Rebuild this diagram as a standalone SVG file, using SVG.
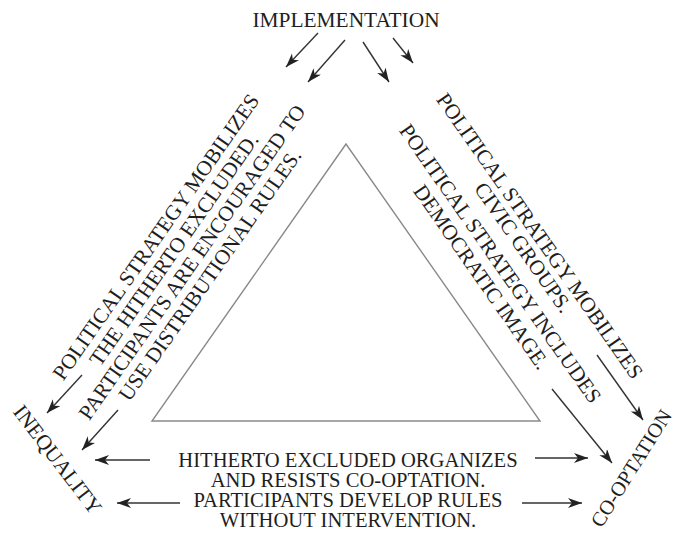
<svg xmlns="http://www.w3.org/2000/svg" width="681" height="541" viewBox="0 0 681 541">
<style>
text{font-family:"Liberation Serif","Times New Roman",serif;font-size:21.4px;fill:#1e1e1e;}
.c{text-anchor:middle;}
.b{font-size:20.6px;}
.tri{fill:none;stroke:#8a8a8a;stroke-width:1.4;}
.ar{fill:none;stroke:#333;stroke-width:1.4;marker-end:url(#ah);}
</style>
<defs>
<marker id="ah" markerUnits="userSpaceOnUse" markerWidth="15" markerHeight="11" refX="14" refY="5" orient="auto">
<path d="M0,0 L14,5 L0,10 L4,5 z" fill="#222"/>
</marker>
</defs>
<rect width="681" height="541" fill="#fff"/>
<g id="triangle"><polygon class="tri" points="346,144 152,421 540,421"/></g>
<g id="implementation"><text class="c" x="346" y="27">IMPLEMENTATION</text></g>
<g id="inequality"><text class="c" transform="translate(52,464) rotate(52.6)">INEQUALITY</text></g>
<g id="cooptation"><text class="c" style="font-size:20.5px" transform="translate(637,472) rotate(-58)">CO-OPTATION</text></g>
<g id="left-label" transform="translate(161.7,241) rotate(-55)">
<text class="c" x="0" y="0">POLITICAL STRATEGY MOBILIZES</text>
<text class="c" x="0" y="22">THE HITHERTO EXCLUDED.</text>
<text class="c" x="0" y="44">PARTICIPANTS ARE ENCOURAGED TO</text>
<text class="c" x="0" y="66">USE DISTRIBUTIONAL RULES.</text>
</g>
<g id="right-label">
<text class="c" transform="translate(534,240) rotate(55)">POLITICAL STRATEGY MOBILIZES</text>
<text class="c" transform="translate(517.5,251.6) rotate(55)">CIVIC GROUPS.</text>
<text class="c" transform="translate(494.6,267.7) rotate(55)">POLITICAL STRATEGY INCLUDES</text>
<text class="c" transform="translate(475.6,281) rotate(55)">DEMOCRATIC IMAGE.</text>
</g>
<g id="bottom-label">
<text class="c b" x="348" y="467">HITHERTO EXCLUDED ORGANIZES</text>
<text class="c b" x="348" y="487">AND RESISTS CO-OPTATION.</text>
<text class="c b" x="348" y="507">PARTICIPANTS DEVELOP RULES</text>
<text class="c b" x="348" y="527">WITHOUT INTERVENTION.</text>
</g>
<g id="connectors">
<line class="ar" x1="318" y1="33" x2="286" y2="67"/>
<line class="ar" x1="345" y1="40" x2="308" y2="82"/>
<line class="ar" x1="363" y1="42" x2="389" y2="82"/>
<line class="ar" x1="393" y1="38" x2="413" y2="63"/>
<line class="ar" x1="82" y1="375" x2="47" y2="413"/>
<line class="ar" x1="118" y1="410" x2="82" y2="450"/>
<line class="ar" x1="597" y1="355" x2="643" y2="420"/>
<line class="ar" x1="552" y1="389" x2="612" y2="463"/>
<line class="ar" x1="150" y1="460" x2="95" y2="460"/>
<line class="ar" x1="535" y1="458" x2="588" y2="458"/>
<line class="ar" x1="180" y1="503" x2="117" y2="503"/>
<line class="ar" x1="522" y1="503" x2="582" y2="503"/>
</g>
</svg>
